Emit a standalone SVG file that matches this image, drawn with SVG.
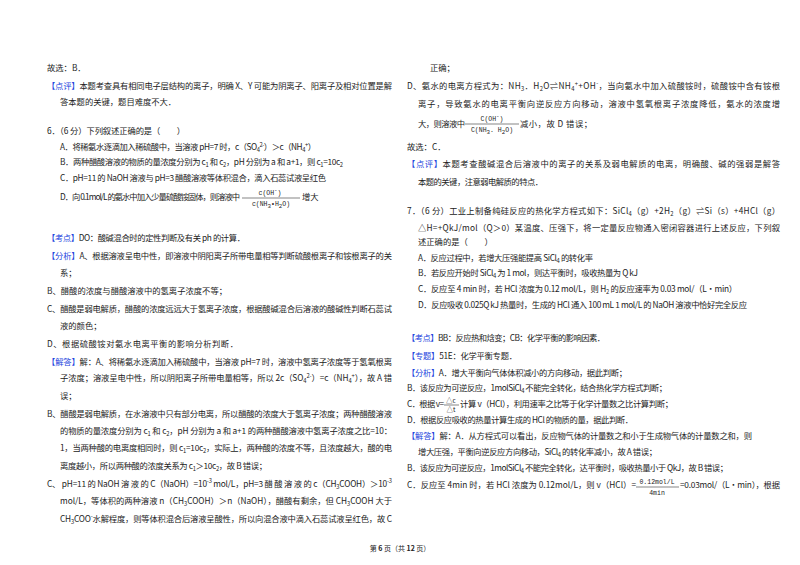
<svg xmlns="http://www.w3.org/2000/svg" width="800" height="565" viewBox="0 0 800 565">
<style>
text{font-family:"Noto Sans CJK SC","Noto Sans",sans-serif;font-size:8.3px;fill:#222}
.b{fill:#2244dd}
.s{font-size:5.8px}
.f{font-size:6.5px;font-family:"Liberation Mono","Noto Sans CJK SC",monospace}
.ft{font-size:6.5px}
line{stroke:#333;stroke-width:0.6}
</style>
<rect width="800" height="565" fill="#fff"/>
<g id="left">
<text x="47" y="71">故选：B．</text>
<text x="47" y="89" textLength="345" lengthAdjust="spacing"><tspan class="b">【点评】</tspan>本题考查具有相同电子层结构的离子，明确 X、Y 可能为阴离子、阳离子及相对位置是解</text>
<text x="60" y="105">答本题的关键，题目难度不大．</text>
<text x="47" y="134" textLength="138" lengthAdjust="spacing">6．（6 分）下列叙述正确的是（　　）</text>
<text x="60" y="150" textLength="256" lengthAdjust="spacing">A．将稀氨水逐滴加入稀硫酸中，当溶液 pH=7 时，c（SO<tspan class="s" dy="2">4</tspan><tspan class="s" dy="-5">2-</tspan><tspan dy="3">）＞c（NH</tspan><tspan class="s" dy="2">4</tspan><tspan class="s" dy="-5">+</tspan><tspan dy="3">）</tspan></text>
<text x="60" y="165" textLength="283" lengthAdjust="spacing">B．两种醋酸溶液的物质的量浓度分别为 c<tspan class="s" dy="2">1</tspan><tspan dy="-2"> 和 c</tspan><tspan class="s" dy="2">2</tspan><tspan dy="-2">，pH 分别为 a 和 a+1，则 c</tspan><tspan class="s" dy="2">1</tspan><tspan dy="-2">=10c</tspan><tspan class="s" dy="2">2</tspan></text>
<text x="60" y="181" textLength="266" lengthAdjust="spacing">C．pH=11 的 NaOH 溶液与 pH=3 醋酸溶液等体积混合，滴入石蕊试液呈红色</text>
<text x="60" y="200" textLength="180" lengthAdjust="spacing">D．向 0.1mol/L 的氨水中加入少量硫酸铵固体，则溶液中</text>
<text class="f" x="270" y="195" text-anchor="middle">c(OH<tspan class="s" dy="-3">-</tspan><tspan dy="3">)</tspan></text>
<line x1="242" y1="198" x2="300" y2="198"/>
<text class="f" x="271" y="206" text-anchor="middle">c(NH<tspan class="s" dy="2">3</tspan><tspan dy="-2">•H</tspan><tspan class="s" dy="2">2</tspan><tspan dy="-2">O)</tspan></text>
<text x="302" y="200">增大</text>
<text x="47" y="241" textLength="198" lengthAdjust="spacing"><tspan class="b">【考点】</tspan>DO：酸碱混合时的定性判断及有关 ph 的计算．</text>
<text x="47" y="259" textLength="345" lengthAdjust="spacing"><tspan class="b">【分析】</tspan>A、根据溶液呈电中性，即溶液中阴阳离子所带电量相等判断硫酸根离子和铵根离子的关</text>
<text x="60" y="276">系；</text>
<text x="47" y="294" textLength="180" lengthAdjust="spacing">B、醋酸的浓度与醋酸溶液中的氢离子浓度不等；</text>
<text x="47" y="312" textLength="345" lengthAdjust="spacing">C、醋酸是弱电解质，醋酸的浓度远远大于氢离子浓度，根据酸碱混合后溶液的酸碱性判断石蕊试</text>
<text x="60" y="329">液的颜色；</text>
<text x="47" y="347" textLength="191" lengthAdjust="spacing">D、根据硫酸铵对氨水电离平衡的影响分析判断．</text>
<text x="47" y="365" textLength="345" lengthAdjust="spacing"><tspan class="b">【解答】</tspan>解：A、将稀氨水逐滴加入稀硫酸中，当溶液 pH=7 时，溶液中氢离子浓度等于氢氧根离</text>
<text x="60" y="381" textLength="332" lengthAdjust="spacing">子浓度；溶液呈电中性，所以阴阳离子所带电量相等，所以 2c（SO<tspan class="s" dy="2">4</tspan><tspan class="s" dy="-5">2-</tspan><tspan dy="3">）=c（NH</tspan><tspan class="s" dy="2">4</tspan><tspan class="s" dy="-5">+</tspan><tspan dy="3">），故 A 错</tspan></text>
<text x="60" y="399">误；</text>
<text x="47" y="417" textLength="345" lengthAdjust="spacing">B、醋酸是弱电解质，在水溶液中只有部分电离，所以醋酸的浓度大于氢离子浓度；两种醋酸溶液</text>
<text x="60" y="434" textLength="332" lengthAdjust="spacing">的物质的量浓度分别为 c<tspan class="s" dy="2">1</tspan><tspan dy="-2"> 和 c</tspan><tspan class="s" dy="2">2</tspan><tspan dy="-2">，pH 分别为 a 和 a+1 的两种醋酸溶液中氢离子浓度之比=10：</tspan></text>
<text x="60" y="451" textLength="332" lengthAdjust="spacing">1，当两种酸的电离度相同时，则 c<tspan class="s" dy="2">1</tspan><tspan dy="-2">=10c</tspan><tspan class="s" dy="2">2</tspan><tspan dy="-2">，实际上，两种酸的浓度不等，且浓度越大，酸的电</tspan></text>
<text x="60" y="469" textLength="207" lengthAdjust="spacing">离度越小，所以两种酸的浓度关系为 c<tspan class="s" dy="2">1</tspan><tspan dy="-2">＞10c</tspan><tspan class="s" dy="2">2</tspan><tspan dy="-2">，故 B 错误；</tspan></text>
<text x="47" y="487" textLength="345" lengthAdjust="spacing">C、 pH=11 的 NaOH 溶 液 的 C（NaOH）=10<tspan class="s" dy="-4">-3</tspan><tspan dy="4"> mol/L，pH=3 醋 酸 溶 液 的 c（CH</tspan><tspan class="s" dy="2">3</tspan><tspan dy="-2">COOH）＞10</tspan><tspan class="s" dy="-4">-3</tspan></text>
<text x="60" y="504" textLength="332" lengthAdjust="spacing">mol/L，等体积的两种溶液 n（CH<tspan class="s" dy="2">3</tspan><tspan dy="-2">COOH）＞n（NaOH），醋酸有剩余，但 CH</tspan><tspan class="s" dy="2">3</tspan><tspan dy="-2">COOH 大于</tspan></text>
<text x="60" y="522" textLength="332" lengthAdjust="spacing">CH<tspan class="s" dy="2">3</tspan><tspan dy="-2">COO</tspan><tspan class="s" dy="-4">-</tspan><tspan dy="4">水解程度，则等体积混合后溶液呈酸性，所以向混合液中滴入石蕊试液呈红色，故 C</tspan></text>
</g>
<g id="right">
<text x="430" y="71">正确；</text>
<text x="407" y="89" textLength="373" lengthAdjust="spacing">D、氨水的电离方程式为：NH<tspan class="s" dy="2">3</tspan><tspan dy="-2">．H</tspan><tspan class="s" dy="2">2</tspan><tspan dy="-2">O⇌NH</tspan><tspan class="s" dy="2">4</tspan><tspan class="s" dy="-5">+</tspan><tspan dy="3">+OH</tspan><tspan class="s" dy="-4">-</tspan><tspan dy="4">，当向氨水中加入硫酸铵时，硫酸铵中含有铵根</tspan></text>
<text x="418" y="107" textLength="362" lengthAdjust="spacing">离子，导致氨水的电离平衡向逆反应方向移动，溶液中氢氧根离子浓度降低，氨水的浓度增</text>
<text x="418" y="127" textLength="47" lengthAdjust="spacing">大，则溶液中</text>
<text class="f" x="492" y="121" text-anchor="middle">C(OH<tspan class="s" dy="-3">-</tspan><tspan dy="3">)</tspan></text>
<line x1="465" y1="124" x2="519" y2="124"/>
<text class="f" x="492" y="132" text-anchor="middle">C(NH<tspan class="s" dy="2">3</tspan><tspan dy="-2">. H</tspan><tspan class="s" dy="2">2</tspan><tspan dy="-2">O)</tspan></text>
<text x="520" y="127" textLength="72" lengthAdjust="spacing">减小，故 D 错误；</text>
<text x="407" y="150">故选：C．</text>
<text x="407" y="167" textLength="373" lengthAdjust="spacing"><tspan class="b">【点评】</tspan>本题考查酸碱混合后溶液中的离子的关系及弱电解质的电离，明确酸、碱的强弱是解答</text>
<text x="418" y="185" textLength="125" lengthAdjust="spacing">本题的关键，注意弱电解质的特点．</text>
<text x="407" y="214" textLength="373" lengthAdjust="spacing">7．（6 分）工业上制备纯硅反应的热化学方程式如下：SiCl<tspan class="s" dy="2">4</tspan><tspan dy="-2">（g）+2H</tspan><tspan class="s" dy="2">2</tspan><tspan dy="-2">（g）⇌Si（s）+4HCl（g）</tspan></text>
<text x="418" y="231" textLength="362" lengthAdjust="spacing">△H=+QkJ/mol（Q＞0）某温度、压强下，将一定量反应物通入密闭容器进行上述反应，下列叙</text>
<text x="418" y="245">述正确的是（　　）</text>
<text x="418" y="261" textLength="175" lengthAdjust="spacing">A．反应过程中，若增大压强能提高 SiCl<tspan class="s" dy="2">4</tspan><tspan dy="-2"> 的转化率</tspan></text>
<text x="418" y="276" textLength="220" lengthAdjust="spacing">B．若反应开始时 SiCl<tspan class="s" dy="2">4</tspan><tspan dy="-2"> 为 1 mol，则达平衡时，吸收热量为 Q kJ</tspan></text>
<text x="418" y="292" textLength="319" lengthAdjust="spacing">C．反应至 4 min 时，若 HCl 浓度为 0.12 mol/L，则 H<tspan class="s" dy="2">2</tspan><tspan dy="-2"> 的反应速率为 0.03 mol/（L•min）</tspan></text>
<text x="418" y="308" textLength="329" lengthAdjust="spacing">D．反应吸收 0.025Q kJ 热量时，生成的 HCl 通入 100 mL 1 mol/L 的 NaOH 溶液中恰好完全反应</text>
<text x="407" y="341" textLength="198" lengthAdjust="spacing"><tspan class="b">【考点】</tspan>BB：反应热和焓变；CB：化学平衡的影响因素．</text>
<text x="407" y="359" textLength="110" lengthAdjust="spacing"><tspan class="b">【专题】</tspan>51E：化学平衡专题．</text>
<text x="407" y="376" textLength="220" lengthAdjust="spacing"><tspan class="b">【分析】</tspan>A．增大平衡向气体体积减小的方向移动，据此判断；</text>
<text x="407" y="391" textLength="260" lengthAdjust="spacing">B．该反应为可逆反应，1molSiCl<tspan class="s" dy="2">4</tspan><tspan dy="-2"> 不能完全转化，结合热化学方程式判断；</tspan></text>
<text x="407" y="407" textLength="37" lengthAdjust="spacing">C．根据 v=</text>
<text x="451" y="403" class="ft" text-anchor="middle">△c</text>
<line x1="444" y1="405" x2="459" y2="405"/>
<text x="451" y="412" class="ft" text-anchor="middle">△t</text>
<text x="460" y="407" textLength="213" lengthAdjust="spacing">计算 v（HCl），利用速率之比等于化学计量数之比计算判断；</text>
<text x="407" y="423" textLength="226" lengthAdjust="spacing">D．根据反应吸收的热量计算生成的 HCl 的物质的量，据此判断．</text>
<text x="407" y="439" textLength="345" lengthAdjust="spacing"><tspan class="b">【解答】</tspan>解：A．从方程式可以看出，反应物气体的计量数之和小于生成物气体的计量数之和，则</text>
<text x="418" y="455" textLength="239" lengthAdjust="spacing">增大压强，平衡向逆反应方向移动，SiCl<tspan class="s" dy="2">4</tspan><tspan dy="-2"> 的转化率减小，故 A 错误；</tspan></text>
<text x="407" y="471" textLength="321" lengthAdjust="spacing">B．该反应为可逆反应，1molSiCl<tspan class="s" dy="2">4</tspan><tspan dy="-2"> 不能完全转化，达平衡时，吸收热量小于 QkJ，故 B 错误；</tspan></text>
<text x="407" y="488" textLength="229" lengthAdjust="spacing">C．反应至 4min 时，若 HCl 浓度为 0.12mol/L，则 v（HCl）=</text>
<text class="f" x="657" y="484" text-anchor="middle">0.12mol/L</text>
<line x1="636" y1="487" x2="679" y2="487"/>
<text class="f" x="657" y="495" text-anchor="middle">4min</text>
<text x="680" y="488" textLength="100" lengthAdjust="spacing">=0.03mol/（L•min），根据</text>
</g>
<text x="400" y="551" text-anchor="middle" style="font-size:7px">第 <tspan font-weight="bold">6</tspan> 页（共 <tspan font-weight="bold">12</tspan> 页）</text>
</svg>
